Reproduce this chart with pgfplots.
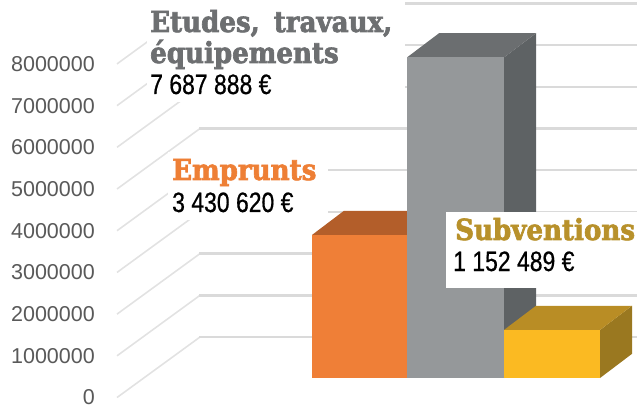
\documentclass[border=0pt]{standalone}
\usepackage{fontspec}
\usepackage{pgfplots}
\pgfplotsset{compat=1.18}
\setmainfont{Liberation Sans}
\newfontfamily\slab[FakeStretch=0.9, BoldFeatures={FakeBold=2.2}]{DejaVu Serif}
\newfontfamily\cond[FakeStretch=0.82, FakeBold=0.6]{Liberation Sans}
\definecolor{orF}{HTML}{EF7F37}
\definecolor{orT}{HTML}{B35E2A}
\definecolor{grF}{HTML}{95989A}
\definecolor{grT}{HTML}{6B6E70}
\definecolor{grS}{HTML}{5E6264}
\definecolor{yeF}{HTML}{FBBA22}
\definecolor{yeT}{HTML}{B98D25}
\definecolor{yeS}{HTML}{9A7820}
\definecolor{gridc}{HTML}{DADADA}
\definecolor{gridd}{HTML}{E2E2E2}
\definecolor{tickc}{HTML}{595959}
\definecolor{tEtu}{HTML}{6D6F71}
\definecolor{tEmp}{HTML}{EE7F35}
\definecolor{tSub}{HTML}{B8912B}
\begin{document}
\begin{tikzpicture}
\begin{axis}[
  at={(0,0)}, anchor=south west,
  scale only axis, width=637pt, height=410pt,
  xmin=0, xmax=637, ymin=-0.767, ymax=9.065,
  axis line style={draw=none}, major tick length=0pt,
  xtick=\empty,
  ytick={-0.468,0.532,1.532,2.532,3.532,4.532,5.532,6.532,7.532},
  yticklabels={0,1000000,2000000,3000000,4000000,5000000,6000000,7000000,8000000},
  yticklabel style={font=\fontsize{21.5}{21.5}\selectfont, text=tickc, anchor=east, inner sep=0pt, xshift=95pt},
  clip=false,
]
% wall grid lines
\pgfplotsinvokeforeach{0,...,8}{
  \draw[gridd, line width=1.6pt] (axis cs:117,{#1-0.468}) -- (axis cs:200,{#1+0.983});
  \draw[gridc, line width=2.4pt] (axis cs:199,{#1+0.983}) -- (axis cs:637,{#1+0.983});
}
% Emprunts 3 430 620
\addplot[fill=orT, draw=none] coordinates {(312,3.43062) (344,4.01062) (439,4.01062) (407,3.43062)};
\addplot[fill=orF, draw=none] coordinates {(312,0) (312,3.43062) (407,3.43062) (407,0)};
% Etudes 7 687 888
\addplot[fill=grS, draw=none] coordinates {(504,0) (536,0.58) (536,8.267888) (504,7.687888)};
\addplot[fill=grT, draw=none] coordinates {(407,7.687888) (439,8.267888) (536,8.267888) (504,7.687888)};
\addplot[fill=grF, draw=none] coordinates {(407,0) (407,7.687888) (504,7.687888) (504,0)};
% Subventions 1 152 489
\addplot[fill=yeS, draw=none] coordinates {(600,0) (632,0.58) (632,1.732489) (600,1.152489)};
\addplot[fill=yeT, draw=none] coordinates {(504,1.152489) (536,1.732489) (632,1.732489) (600,1.152489)};
\addplot[fill=yeF, draw=none] coordinates {(504,0) (504,1.152489) (600,1.152489) (600,0)};
\end{axis}
% label boxes
\fill[white] (147pt,410pt) rectangle (405pt,308pt);
\fill[white] (168pt,258pt) rectangle (328pt,190pt);
\fill[white] (446pt,198pt) rectangle (637pt,122pt);
\begin{scope}[every node/.style={anchor=base west, inner sep=0pt}]
\node[text=tEtu] at (150pt,378pt) {\slab\bfseries\fontsize{29}{29}\selectfont Etudes,\hspace{5pt} travaux,};
\node[text=tEtu] at (150pt,347pt) {\slab\bfseries\fontsize{29}{29}\selectfont équipements};
\node at (150pt,316pt) {\cond\fontsize{28}{28}\selectfont 7 687 888 €};
\node[text=tEmp] at (172pt,230pt) {\slab\bfseries\fontsize{29}{29}\selectfont Emprunts};
\node at (172pt,198pt) {\cond\fontsize{28}{28}\selectfont 3 430 620 €};
\node[text=tSub] at (455pt,170pt) {\slab\bfseries\fontsize{29}{29}\selectfont Subventions};
\node at (453pt,139pt) {\cond\fontsize{28}{28}\selectfont 1 152 489 €};
\end{scope}
\pgfresetboundingbox
\path[use as bounding box] (0,0) rectangle (637pt,410pt);
\end{tikzpicture}
\end{document}
